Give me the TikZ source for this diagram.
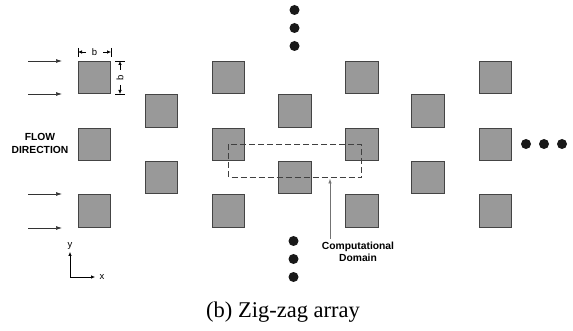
\documentclass[tikz,border=0pt]{standalone}
\usepackage{fontspec}
\setmainfont{Liberation Serif}
\setsansfont{Liberation Sans}
\usetikzlibrary{arrows.meta}
\definecolor{sqfill}{HTML}{999999}
\definecolor{sqline}{HTML}{444444}
\definecolor{arrline}{HTML}{333333}
\tikzset{
  sq/.style={draw=sqline, fill=sqfill, line width=0.8pt, minimum size=32.5pt, inner sep=0pt},
  flowarr/.style={draw=arrline, line width=0.7pt, -{Latex[length=6pt,width=4pt]}},
  dimarr/.style={draw=black, line width=0.6pt, -{Latex[length=4pt,width=3.5pt]}},
  tick/.style={draw=black, line width=0.6pt},
  dot/.style={circle, fill=black!90, inner sep=0pt, minimum size=10pt},
  lbl/.style={font=\sffamily\bfseries\fontsize{10.3}{13}\selectfont, align=center, inner sep=0pt},
  small/.style={font=\sffamily\fontsize{9.5}{10}\selectfont, inner sep=0pt},
}
\begin{document}
\begin{tikzpicture}[x=1pt,y=-1pt]
\useasboundingbox (0,0) rectangle (573,331);
% squares: odd columns
\foreach \c/\x in {1/94.5,3/228.5,5/361.8,7/495.2}{
  \node[sq] (s\c a) at (\x,77.5) {};
  \node[sq] (s\c b) at (\x,144.5) {};
  \node[sq] (s\c c) at (\x,211) {};
}
% even columns
\foreach \c/\x in {2/161.5,4/295,6/428}{
  \node[sq] (s\c a) at (\x,111) {};
  \node[sq] (s\c b) at (\x,177.5) {};
}
% flow arrows
\foreach \n/\y in {1/61,2/94,3/194,4/228}{
  \coordinate (fa\n) at (28,\y);
  \coordinate (fb\n) at (62,\y);
  \draw[flowarr] (fa\n) -- (fb\n);
}
\node[lbl] (flow) at (40,143.5) {FLOW\\DIRECTION};
% horizontal dimension b
\coordinate (hl1) at (78,48); \coordinate (hl2) at (78,57);
\coordinate (hr1) at (111,48); \coordinate (hr2) at (111,57);
\draw[tick] (hl1) -- (hl2);
\draw[tick] (hr1) -- (hr2);
\node[small] (hb) at (94.5,52) {b};
\coordinate (hla) at (86,52); \coordinate (hlb) at (78,52);
\coordinate (hra) at (103,52); \coordinate (hrb) at (111,52);
\draw[dimarr] (hla) -- (hlb);
\draw[dimarr] (hra) -- (hrb);
% vertical dimension b
\coordinate (vt1) at (115,61); \coordinate (vt2) at (125,61);
\coordinate (vb1) at (115,94); \coordinate (vb2) at (125,94);
\draw[tick] (vt1) -- (vt2);
\draw[tick] (vb1) -- (vb2);
\node[small, rotate=90] (vb) at (120,77.5) {b};
\coordinate (vta) at (120,70); \coordinate (vtb) at (120,61);
\coordinate (vba) at (120,85); \coordinate (vbb) at (120,94);
\draw[dimarr] (vta) -- (vtb);
\draw[dimarr] (vba) -- (vbb);
% dots
\node[dot] (d1) at (294.5,10) {};
\node[dot] (d2) at (294.5,28) {};
\node[dot] (d3) at (294.5,46) {};
\node[dot] (d4) at (293.5,241) {};
\node[dot] (d5) at (293.5,259) {};
\node[dot] (d6) at (293.5,277) {};
\node[dot] (d7) at (526,144) {};
\node[dot] (d8) at (544,144) {};
\node[dot] (d9) at (562,144) {};
% computational domain
\draw[black!75, line width=0.8pt, dash pattern=on 6pt off 3pt] (s3b.center) rectangle (s5b.center |- s4b.center);
\node[lbl, font=\sffamily\bfseries\fontsize{10.3}{12.5}\selectfont] (cd) at (358,252) {Computational\\Domain};
\coordinate (cdtip) at (330,178.5);
\coordinate (cdbase) at (330,239);
\draw[black!55, line width=0.8pt, -{Latex[length=5pt,width=3.5pt]}] (cdbase) -- (cdtip);
% axes
\coordinate (o) at (70,277);
\coordinate (ax) at (95,277);
\coordinate (ay) at (70,252);
\draw[dimarr] (o) -- (ax);
\draw[dimarr] (o) -- (ay);
\node[small] (xl) at (102,277) {x};
\node[small] (yl) at (70,246) {y};
% caption
\node[font=\fontsize{22.5}{26}\selectfont, inner sep=0pt, anchor=base] (cap) at (283,317) {(b) Zig-zag array};
\end{tikzpicture}
\end{document}
